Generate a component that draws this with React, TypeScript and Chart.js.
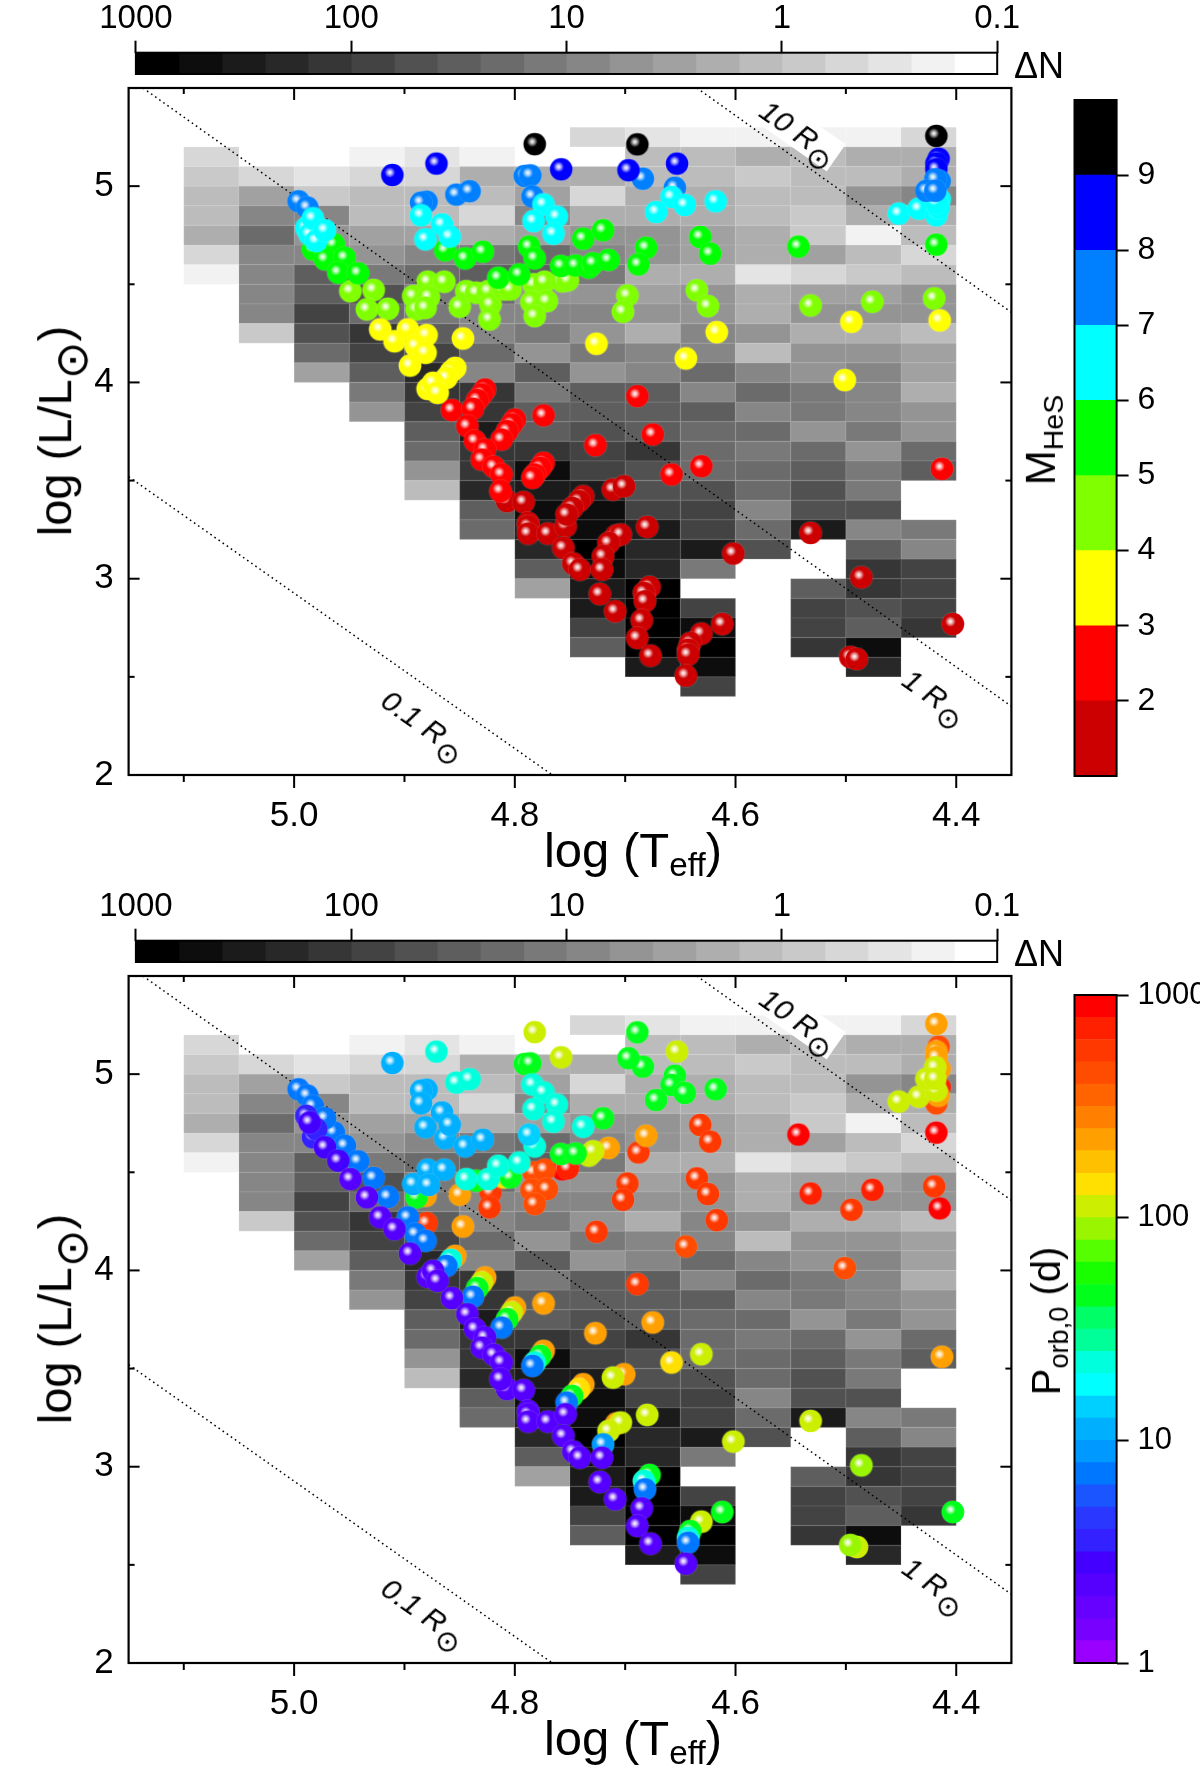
import React, { useEffect, useRef } from "react";
import { Chart, registerables } from "chart.js";

Chart.register(...registerables);

const FONT = '"Liberation Sans", Arial, sans-serif';

// ---------- data ----------
const logTEdges = [5.1, 5.05, 5.0, 4.95, 4.9, 4.85, 4.8, 4.75, 4.7, 4.65, 4.6, 4.55, 4.5, 4.45, 4.4];
const logLEdges = [5.3, 5.2, 5.1, 5.0, 4.9, 4.8, 4.7, 4.6, 4.5, 4.4, 4.3, 4.2, 4.1, 4.0, 3.9, 3.8, 3.7, 3.6, 3.5, 3.4, 3.3, 3.2, 3.1, 3.0, 2.9, 2.8, 2.7, 2.6, 2.5, 2.4];

// Number-density bin (0 = densest, 19 = emptiest) per Teff column, top row first.
const n = null;
const densityColumns: (number | null)[][] = [
  [n, 16, 15, 14, 14, 13, 16, 18],
  [n, n, 16, 12, 10, 8, 10, 10, 10, 10, 15],
  [n, n, 17, 15, 10, 11, 10, 7, 7, 5, 6, 8, 12],
  [n, 18, 16, 14, 14, 12, 11, 9, 6, 8, 4, 5, 7, 9, 11],
  [n, 17, 16, 14, 14, 12, 10, 8, 9, 9, 7, 5, 3, 4, 5, 7, 8, 11, 14],
  [n, 18, 13, 14, 16, 13, 9, 7, 8, 10, 10, 8, 10, 4, 4, 2, 4, 4, 3, 7, 8],
  [n, n, 13, 12, 10, 12, 8, 7, 11, 10, 9, 11, 7, 9, 7, 7, 4, 1, 2, 1, 2, 3, 7, 12],
  [16, n, 13, 16, 13, 11, 10, 9, 11, 10, 11, 9, 11, 7, 7, 6, 5, 5, 2, 1, 1, 0, 1, 2, 2, 5, 7],
  [17, 14, 14, 13, 13, 11, 11, 13, 12, 11, 13, 10, 10, 7, 7, 7, 4, 6, 6, 5, 2, 3, 3, 0, 0, 0, 0, 2],
  [18, 14, 14, 13, 13, 12, 12, 13, 11, 11, 10, 10, 8, 10, 7, 8, 8, 8, 6, 5, 5, 2, 9, n, 5, 1, 0, 1, 5],
  [18, 13, 15, 14, 14, 13, 13, 17, 13, 13, 11, 14, 10, 8, 10, 8, 9, 8, 8, 10, 8, 6],
  [18, 14, 14, 14, 15, 15, 12, 16, 12, 11, 13, 11, 11, 9, 9, 11, 8, 7, 6, 6, 2, n, n, 7, 5, 5, 4],
  [18, 13, 14, 11, 13, 18, 14, 15, 12, 11, 13, 11, 10, 10, 10, 9, 11, 9, 9, 6, 10, 7, 4, 4, 6, 7, 1, 3],
  [16, 13, 13, 10, 13, 14, 16, 14, 11, 11, 14, 12, 12, 13, 11, 11, 8, 7, n, n, 9, 10, 5, 5, 5, 4],
];

// Stars: [log Teff, log L, P_orb,0], grouped by M_HeS.
const starsM15 = [
  [4.807,3.395,2.2],[4.792,3.39,2.2],[4.788,3.284,2.2],[4.788,3.267,2.2],[4.788,3.23,2.2],[4.77,3.23,2.2],[4.754,3.267,2.2],[4.756,3.157,2.2],[4.747,3.077,2.2],[4.741,3.046,2.2],
  [4.738,3.42,224],[4.742,3.395,141],[4.748,3.361,45],[4.753,3.327,7.1],[4.711,3.454,112],[4.701,3.471,224],[4.68,3.264,112],[4.708,3.22,224],[4.704,3.225,112],[4.715,3.182,112],[4.72,3.114,9],[4.721,3.046,2.2],
  [4.602,3.128,112],[4.723,2.922,2.2],[4.709,2.834,2.2],[4.678,2.958,45],[4.683,2.927,22],[4.682,2.885,7.1],[4.685,2.788,2.2],[4.689,2.698,2.2],[4.677,2.608,2.2],
  [4.612,2.769,45],[4.631,2.72,112],[4.641,2.672,45],[4.643,2.638,22],[4.643,2.613,7.1],[4.645,2.506,2.2],[4.532,3.233,112],[4.486,3.007,89],[4.496,2.601,89],[4.49,2.591,112],[4.403,2.769,45],
];
const starsM25 = [
  [4.857,3.859,2.2],[4.827,3.964,224],[4.83,3.939,112],[4.834,3.91,45],[4.838,3.866,7.1],[4.843,3.777,2.2],[4.836,3.701,2.2],[4.8,3.811,224],[4.803,3.786,112],[4.807,3.752,45],[4.812,3.709,7.1],
  [4.774,3.832,224],[4.689,3.93,562],[4.675,3.735,224],[4.727,3.68,224],[4.658,3.531,141],[4.631,3.573,112],[4.827,3.658,2.2],[4.83,3.607,2.2],[4.819,3.57,2.2],[4.812,3.531,2.2],[4.813,3.446,2.2],
  [4.774,3.59,224],[4.777,3.565,45],[4.782,3.531,22],[4.784,3.514,7.1],[4.413,3.56,224],
];
const starsM45 = [
  [4.949,4.465,2.2],[4.928,4.471,7.1],[4.934,4.372,2.2],[4.915,4.375,7.1],[4.892,4.44,11],[4.879,4.513,11],[4.864,4.513,11],[4.878,4.435,11],[4.889,4.372,45],[4.881,4.38,224],
  [4.85,4.386,224],[4.844,4.465,22],[4.835,4.457,45],[4.824,4.465,22],[4.822,4.397,562],[4.823,4.321,562],[4.81,4.474,141],[4.804,4.474,45],[4.783,4.5,447],[4.773,4.513,447],[4.785,4.409,447],[4.771,4.414,447],[4.782,4.338,447],
  [4.757,4.515,891],[4.752,4.52,708],[4.698,4.443,562],[4.702,4.36,562],[4.635,4.469,562],[4.625,4.389,562],[4.532,4.392,708],[4.476,4.411,708],[4.42,4.428,562],
];
const starsM35 = [
  [4.922,4.27,2.2],[4.909,4.21,2.2],[4.897,4.27,7.1],[4.88,4.241,562],[4.89,4.185,7.1],[4.881,4.151,7.1],[4.895,4.086,2.2],[4.847,4.224,224],[4.854,4.074,224],[4.858,4.054,22],[4.862,4.023,7.1],[4.879,3.967,2.2],[4.874,3.998,2.2],[4.87,3.947,2.2],
  [4.726,4.197,562],[4.645,4.122,447],[4.617,4.256,562],[4.495,4.309,562],[4.501,4.012,447],[4.415,4.316,891],
];
const starsM55 = [
  [4.964,4.703,7.1],[4.983,4.678,3.5],[4.972,4.627,2.8],[4.954,4.635,7.1],[4.96,4.559,2.8],[4.942,4.556,7.1],[4.863,4.673,11],[4.845,4.632,11],[4.829,4.666,11],[4.787,4.692,14],[4.782,4.632,22],[4.815,4.533,22],[4.796,4.55,22],[4.758,4.593,45],
  [4.738,4.732,22],[4.72,4.775,45],[4.681,4.686,224],[4.688,4.601,562],[4.632,4.741,562],[4.623,4.656,562],[4.543,4.692,891],[4.418,4.702,891],[4.745,4.596,45],[4.733,4.585,112],[4.729,4.607,112],[4.715,4.624,224],
];
const starsM75left = [
  [4.996,4.923,7.1],[4.988,4.891,7.1],[4.88,4.921,11],[4.885,4.916,11],[4.853,4.957,22],[4.841,4.974,22],[4.791,5.052,45],[4.786,5.055,45],[4.784,4.947,22],[4.684,5.038,45],[4.655,4.992,45],
];
const starsM65 = [
  [4.989,4.788,3.5],[4.986,4.754,2.8],[4.98,4.72,3.5],[4.983,4.836,7.1],[4.972,4.775,7.1],[4.885,4.851,11],[4.866,4.805,11],[4.881,4.729,11],[4.859,4.743,11],[4.774,4.907,22],[4.783,4.822,22],[4.762,4.845,22],[4.765,4.758,22],
  [4.658,4.945,45],[4.646,4.904,45],[4.672,4.868,45],[4.618,4.923,45],[4.452,4.86,112],[4.434,4.885,112],[4.418,4.851,447],[4.415,4.933,708],[4.416,4.89,224],[4.418,4.916,112],
];
const starsM95 = [[4.782,5.214,112],[4.689,5.213,45],[4.418,5.256,224]];
const starsM85 = [[4.911,5.057,11],[4.871,5.115,22],[4.758,5.086,112],[4.697,5.081,45],[4.653,5.115,112],[4.416,5.14,447],[4.418,5.115,224],[4.418,5.086,224]];
const starsM75right = [[4.415,5.026,224],[4.419,5.035,112],[4.427,4.976,112],[4.419,4.976,112]];

const starGroups: [number, number[][]][] = [
  [1.5, starsM15],[2.5, starsM25],[4.5, starsM45],[3.5, starsM35],[5.5, starsM55],[7.5, starsM75left],[6.5, starsM65],[9.5, starsM95],[8.5, starsM85],[7.5, starsM75right],
];

// Constant-radius lines, end points.
const radiusLine10 = [{ x: 4.635, y: 5.5 }, { x: 4.35, y: 4.357 }];
const radiusLine1 = [{ x: 5.137, y: 5.5 }, { x: 4.35, y: 2.35 }];
const radiusLine01 = [{ x: 5.15, y: 3.52 }, { x: 4.766, y: 2 }];

const xMajor = [5.0, 4.8, 4.6, 4.4];
const xMinor = [5.1, 4.9, 4.7, 4.5];
const yMajor = [5, 4, 3, 2];
const yMinor = [5.5, 4.5, 3.5, 2.5];

const deltaNEdges = [1000, 631, 398, 251, 158, 100, 63.1, 39.8, 25.1, 15.8, 10, 6.31, 3.98, 2.51, 1.58, 1, 0.631, 0.398, 0.251, 0.158, 0.1];
const deltaNTicks = [1000, 100, 10, 1, 0.1];

const massEdges = [1, 2, 3, 4, 5, 6, 7, 8, 9, 10];
const massTicks = [2, 3, 4, 5, 6, 7, 8, 9];
const massColors = ["#cc0000", "#ff0000", "#ffff00", "#80ff00", "#00ff00", "#00ffff", "#0080ff", "#0000ff", "#000000"];

const porbEdges = [1, 1.26, 1.58, 2, 2.51, 3.16, 3.98, 5.01, 6.31, 7.94, 10, 12.6, 15.8, 20, 25.1, 31.6, 39.8, 50.1, 63.1, 79.4, 100, 126, 158, 200, 251, 316, 398, 501, 631, 794, 1000];
const porbTicks = [1, 10, 100, 1000];
const porbColors = ["#9900ff", "#7700ff", "#6600ff", "#5500ff", "#4400ff", "#3322ff", "#2a38ff", "#1a55ff", "#0077ff", "#0099ff", "#00b0ff", "#00d0ff", "#00ffff", "#00ffdd", "#00ff99", "#00ff66", "#00ff1a", "#1aff00", "#55ff00", "#99f500", "#ccee00", "#ffe000", "#ffc000", "#ffa000", "#ff8000", "#ff6400", "#ff4c00", "#ff3800", "#ff2000", "#ff0000"];

// ---------- helpers ----------
const grayOf = (level: number) => {
  const g = Math.round((level * 255) / 19);
  return `rgb(${g},${g},${g})`;
};
const levelOf = (edges: number[], v: number) => {
  for (let i = 0; i < edges.length - 1; i++) if (v >= edges[i] && v < edges[i + 1]) return i;
  return edges.length - 2;
};
const noPadding = (s: any) => {
  s.paddingTop = 0;
  s.paddingBottom = 0;
  s.paddingLeft = 0;
  s.paddingRight = 0;
};

const spriteCache: Record<string, HTMLCanvasElement> = {};
function sphere(color: string) {
  if (spriteCache[color]) return spriteCache[color];
  const c = document.createElement("canvas");
  c.width = 26;
  c.height = 26;
  const g = c.getContext("2d")!;
  g.fillStyle = "rgba(255,255,255,0.15)";
  g.beginPath();
  g.arc(13, 13, 11.9, 0, Math.PI * 2);
  g.fill();
  g.fillStyle = color;
  g.beginPath();
  g.arc(13, 13, 11.3, 0, Math.PI * 2);
  g.fill();
  const hl = g.createRadialGradient(10.5, 10.5, 0, 10.5, 10.5, 5.4);
  hl.addColorStop(0, "rgba(255,255,255,0.95)");
  hl.addColorStop(0.3, "rgba(255,255,255,0.8)");
  hl.addColorStop(1, "rgba(255,255,255,0)");
  g.fillStyle = hl;
  g.beginPath();
  g.arc(13, 13, 11.3, 0, Math.PI * 2);
  g.fill();
  spriteCache[color] = c;
  return c;
}

const heatPlugin = {
  id: "heat",
  beforeDatasetsDraw(chart: any) {
    const { ctx, scales } = chart;
    ctx.save();
    densityColumns.forEach((col, c) => {
      const x0 = scales.x.getPixelForValue(logTEdges[c]);
      const x1 = scales.x.getPixelForValue(logTEdges[c + 1]);
      col.forEach((level, r) => {
        if (level === null) return;
        const y0 = scales.y.getPixelForValue(logLEdges[r]);
        const y1 = scales.y.getPixelForValue(logLEdges[r + 1]);
        ctx.fillStyle = grayOf(level);
        ctx.fillRect(x0, y0, x1 - x0, y1 - y0);
        ctx.strokeStyle = "rgba(255,255,255,0.06)";
        ctx.lineWidth = 1;
        ctx.strokeRect(x0 + 0.5, y0 + 0.5, x1 - x0 - 1, y1 - y0 - 1);
      });
    });
    ctx.restore();
  },
};

const framePlugin = {
  id: "frameTicks",
  afterDraw(chart: any) {
    const { ctx, chartArea: a, scales } = chart;
    ctx.save();
    ctx.strokeStyle = "#000";
    ctx.lineWidth = 2.2;
    ctx.strokeRect(a.left, a.top, a.right - a.left, a.bottom - a.top);
    ctx.lineWidth = 2;
    const seg = (x0: number, y0: number, x1: number, y1: number) => {
      ctx.beginPath();
      ctx.moveTo(x0, y0);
      ctx.lineTo(x1, y1);
      ctx.stroke();
    };
    const xt = (vals: number[], top: number, bot: number) =>
      vals.forEach((v) => {
        const p = scales.x.getPixelForValue(v);
        seg(p, a.top, p, a.top + top);
        seg(p, a.bottom, p, a.bottom + bot);
      });
    const yt = (vals: number[], len: number) =>
      vals.forEach((v) => {
        const p = scales.y.getPixelForValue(v);
        seg(a.left, p, a.left + len, p);
        seg(a.right, p, a.right - len, p);
      });
    xt(xMajor, 12, 13);
    xt(xMinor, 6, 7);
    yt(yMajor, 11);
    yt(yMinor, 6);
    ctx.restore();
  },
};

const barFrame = {
  id: "barFrame",
  afterDraw(chart: any) {
    const { ctx, chartArea: a } = chart;
    ctx.save();
    ctx.strokeStyle = "#000";
    ctx.lineWidth = 2;
    ctx.strokeRect(a.left, a.top, a.right - a.left, a.bottom - a.top);
    ctx.restore();
  },
};

const basePlugins = { legend: { display: false }, tooltip: { enabled: false } };

function mainConfig(mode: "mass" | "porb") {
  let stars: { x: number; y: number; color: string; p: number }[] = [];
  starGroups.forEach(([m, list]) =>
    list.forEach(([t, l, p]) =>
      stars.push({
        x: t,
        y: l,
        p,
        color: mode === "mass" ? massColors[levelOf(massEdges, m)] : porbColors[levelOf(porbEdges, p)],
      })
    )
  );
  if (mode === "porb") stars = stars.slice().sort((a, b) => b.p - a.p);
  const line = (data: { x: number; y: number }[]) => ({
    data,
    showLine: true,
    pointRadius: 0,
    borderColor: "#000",
    borderWidth: 1.5,
    borderDash: [1.6, 3.4],
    fill: false,
  });
  return {
    type: "scatter",
    data: {
      datasets: [
        {
          data: stars.map((s) => ({ x: s.x, y: s.y })),
          pointRadius: 11,
          pointStyle: (ctx: any) => sphere(stars[ctx.dataIndex].color),
        },
        line(radiusLine10),
        line(radiusLine1),
        line(radiusLine01),
      ],
    },
    options: {
      animation: false,
      responsive: false,
      devicePixelRatio: 1,
      events: [],
      layout: { padding: { top: 28, right: 18.6, left: 0, bottom: 0 } },
      plugins: basePlugins,
      scales: {
        x: {
          type: "linear",
          reverse: true,
          min: 4.35,
          max: 5.15,
          grid: { display: false, drawTicks: false },
          border: { display: false },
          afterBuildTicks: (s: any) => (s.ticks = xMajor.map((value) => ({ value }))),
          afterFit: (s: any) => {
            s.height = 65;
            noPadding(s);
          },
          ticks: {
            autoSkip: false,
            maxRotation: 0,
            padding: 20,
            color: "#000",
            font: { family: FONT, size: 35 },
            callback: (v: any) => Number(v).toFixed(1),
          },
        },
        y: {
          type: "linear",
          min: 2,
          max: 5.5,
          grid: { display: false, drawTicks: false },
          border: { display: false },
          afterBuildTicks: (s: any) => (s.ticks = yMajor.map((value) => ({ value }))),
          afterFit: (s: any) => {
            s.width = 128.6;
            noPadding(s);
          },
          ticks: {
            autoSkip: false,
            padding: 15,
            color: "#000",
            font: { family: FONT, size: 35 },
            callback: (v: any) => String(v),
          },
        },
      },
    },
    plugins: [heatPlugin, framePlugin],
  };
}

function grayBarConfig() {
  const datasets = deltaNEdges.slice(0, -1).map((hi, i) => ({
    data: [[hi, deltaNEdges[i + 1]]],
    backgroundColor: grayOf(i),
    borderWidth: 0,
    barPercentage: 1,
    categoryPercentage: 1,
    grouped: false,
  }));
  return {
    type: "bar",
    data: { labels: ["ΔN"], datasets },
    options: {
      indexAxis: "y",
      animation: false,
      responsive: false,
      devicePixelRatio: 1,
      events: [],
      layout: { padding: { left: 35.9, right: 42.8, top: 0, bottom: 26 } },
      plugins: basePlugins,
      scales: {
        y: { display: false },
        x: {
          type: "logarithmic",
          position: "top",
          reverse: true,
          min: 0.1,
          max: 1000,
          border: { display: false },
          grid: { drawOnChartArea: false, tickLength: 12, tickColor: "#000", tickWidth: 2 },
          afterBuildTicks: (s: any) => (s.ticks = deltaNTicks.map((value) => ({ value }))),
          afterFit: (s: any) => {
            s.height = 52.7;
            noPadding(s);
          },
          ticks: {
            autoSkip: false,
            maxRotation: 0,
            padding: 2,
            color: "#000",
            font: { family: FONT, size: 33 },
            callback: (v: any) => String(v),
          },
        },
      },
    },
    plugins: [barFrame],
  };
}

function verticalBarConfig(edges: number[], colors: string[], tickVals: number[], log: boolean, fontSize: number) {
  const datasets = colors.map((color, i) => ({
    data: [[edges[i], edges[i + 1]]],
    backgroundColor: color,
    borderWidth: 0,
    barPercentage: 1,
    categoryPercentage: 1,
    grouped: false,
  }));
  return {
    type: "bar",
    data: { labels: [""], datasets },
    options: {
      animation: false,
      responsive: false,
      devicePixelRatio: 1,
      events: [],
      layout: { padding: { left: 14.5, right: 0, top: 30, bottom: 24 } },
      plugins: basePlugins,
      scales: {
        x: { display: false },
        y: {
          type: log ? "logarithmic" : "linear",
          position: "right",
          min: edges[0],
          max: edges[edges.length - 1],
          border: { display: false },
          grid: { drawOnChartArea: false, tickLength: 12, tickColor: "#000", tickWidth: 2 },
          afterBuildTicks: (s: any) => (s.ticks = tickVals.map((value) => ({ value }))),
          afterFit: (s: any) => {
            s.width = 83.4;
            noPadding(s);
          },
          ticks: {
            autoSkip: false,
            padding: 9,
            color: "#000",
            font: { family: FONT, size: fontSize },
            callback: (v: any) => String(v),
          },
        },
      },
    },
    plugins: [barFrame],
  };
}

function Canvas({ left, top, width, height, make }: any) {
  const ref = useRef<HTMLCanvasElement>(null);
  useEffect(() => {
    const chart = new Chart(ref.current as any, make());
    return () => chart.destroy();
  }, []);
  return <canvas ref={ref} width={width} height={height} style={{ position: "absolute", left, top, width, height, display: "block" }} />;
}

const subStyle: any = { fontSize: "0.68em", verticalAlign: "baseline", position: "relative", top: "0.28em" };
const sunStyle: any = { fontSize: "0.95em", fontStyle: "normal", verticalAlign: "baseline", position: "relative", top: "0.36em" };

function Label({ x, y, size, rotate = 0, italic = false, bg, children }: any) {
  return (
    <div
      style={{
        position: "absolute",
        left: x,
        top: y,
        transform: `translate(-50%,-50%) rotate(${rotate}deg)`,
        whiteSpace: "nowrap",
        fontFamily: FONT,
        fontSize: size,
        fontStyle: italic ? "italic" : "normal",
        lineHeight: 1.1,
        color: "#000",
        background: bg,
        padding: bg ? "0 2px" : 0,
      }}
    >
      {children}
    </div>
  );
}

function PanelText({ off }: { off: number }) {
  return (
    <>
      <Label x={1039} y={66 + off} size={36}>ΔN</Label>
      <Label x={55} y={431 + off} size={47} rotate={-90}>
        log (L/L<span style={sunStyle}>⊙</span>)
      </Label>
      <Label x={633} y={851 + off} size={49}>
        log (T<sub style={subStyle}>eff</sub>)
      </Label>
      <Label x={799} y={132 + off} size={30} rotate={35} italic bg="#fff">
        10 R<span style={sunStyle}>⊙</span>
      </Label>
      <Label x={935} y={696 + off} size={30} rotate={35} italic>
        1 R<span style={sunStyle}>⊙</span>
      </Label>
      <Label x={424} y={724 + off} size={30} rotate={35} italic>
        0.1 R<span style={sunStyle}>⊙</span>
      </Label>
    </>
  );
}

export default function App() {
  return (
    <div style={{ position: "absolute", left: 0, top: 0, width: 1200, height: 1769, overflow: "hidden", background: "#fff" }}>
      <Canvas left={0} top={60} width={1030} height={780} make={() => mainConfig("mass")} />
      <Canvas left={100} top={0} width={940} height={100} make={grayBarConfig} />
      <Canvas left={1060} top={70} width={140} height={730} make={() => verticalBarConfig(massEdges, massColors, massTicks, false, 32)} />

      <Canvas left={0} top={948} width={1030} height={780} make={() => mainConfig("porb")} />
      <Canvas left={100} top={888} width={940} height={100} make={grayBarConfig} />
      <Canvas left={1060} top={965} width={140} height={722} make={() => verticalBarConfig(porbEdges, porbColors, porbTicks, true, 31)} />

      <PanelText off={0} />
      <PanelText off={888} />
      <Label x={1041} y={440} size={42} rotate={-90}>
        M<sub style={subStyle}>HeS</sub>
      </Label>
      <Label x={1046} y={1321} size={40} rotate={-90}>
        P<sub style={subStyle}>orb,0</sub> (d)
      </Label>
    </div>
  );
}
